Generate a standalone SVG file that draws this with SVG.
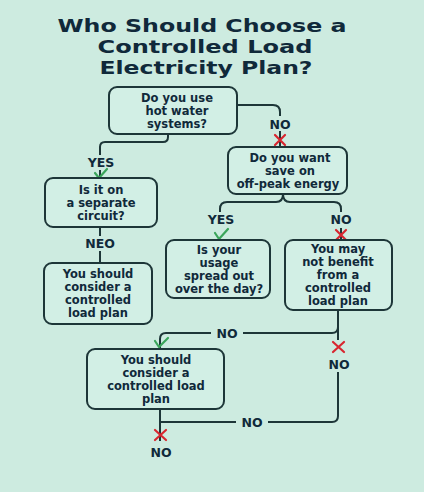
<svg xmlns="http://www.w3.org/2000/svg" width="424" height="492" viewBox="0 0 424 492">
<defs>
<style>
.bg{fill:#cdebe0}
.title{font-family:"DejaVu Sans","Liberation Sans",sans-serif;font-weight:bold;font-size:17.5px;fill:#10293a;text-anchor:middle}
.box{fill:#d2efe5;stroke:#1d3638;stroke-width:2}
.t{font-family:"DejaVu Sans","Liberation Sans",sans-serif;font-weight:bold;font-size:11.5px;fill:#10293a;text-anchor:middle}
.lbl{font-family:"DejaVu Sans","Liberation Sans",sans-serif;font-weight:bold;font-size:12.5px;fill:#10293a;text-anchor:middle}
.ln{fill:none;stroke:#1d3638;stroke-width:2}
.ok{fill:none;stroke:#3aa55a;stroke-width:2.2;stroke-linecap:round;stroke-linejoin:round}
.no{fill:none;stroke:#d8262f;stroke-width:2.2;stroke-linecap:round}
</style>
</defs>
<rect class="bg" x="0" y="0" width="424" height="492"/>
<g id="title">
<text class="title" x="202" y="32" textLength="289" lengthAdjust="spacingAndGlyphs">Who Should Choose a</text>
<text class="title" x="205" y="53" textLength="215" lengthAdjust="spacingAndGlyphs">Controlled Load</text>
<text class="title" x="206" y="74" textLength="213" lengthAdjust="spacingAndGlyphs">Electricity Plan?</text>
</g>
<g id="connectors">
<path class="ln" d="M237,105 H273 Q280,105 280,112 V116"/>
<path class="ln" d="M280,131 V147"/>
<path class="ln" d="M168,134 V137 Q168,142 163,142 H105 Q100,142 100,147 V155"/>
<path class="ln" d="M100,170 V178"/>
<path class="ln" d="M100,227 V236"/>
<path class="ln" d="M100,251 V263"/>
<path class="ln" d="M283,194 Q283,202 276,202 H227 Q220,202 220,209 V212"/>
<path class="ln" d="M283,194 Q283,202 290,202 H334 Q341,202 341,209 V212"/>
<path class="ln" d="M341,228 V240"/>
<path class="ln" d="M338,310 V327 Q338,333 332,333 H243"/>
<path class="ln" d="M211,333 H166 Q160,333 160,339 V349"/>
<path class="ln" d="M338,327 V340"/>
<path class="ln" d="M338,372 V416 Q338,422 332,422 H268"/>
<path class="ln" d="M236,422 H160"/>
<path class="ln" d="M160,409 V441"/>
<text class="lbl" x="280" y="129">NO</text>
<text class="lbl" x="101" y="167">YES</text>
<text class="lbl" x="100" y="248">NEO</text>
<text class="lbl" x="221" y="224">YES</text>
<text class="lbl" x="341" y="224">NO</text>
<text class="lbl" x="227" y="338">NO</text>
<text class="lbl" x="339" y="369">NO</text>
<text class="lbl" x="252" y="427">NO</text>
<text class="lbl" x="161" y="457">NO</text>
<path class="no" d="M275,135 L285,145 M285,135 L275,145"/>
<path class="ok" d="M95,173 L99,178 L107,169"/>
<path class="ok" d="M215,233 L219,239 L228,229"/>
<path class="no" d="M336,230 L346,240 M346,230 L336,240"/>
<path class="ok" d="M155,341 L159,347 L168,338"/>
<path class="no" d="M333,342 L344,352 M344,342 L333,352"/>
<path class="no" d="M155,430 L166,440 M166,430 L155,440"/>
</g>
<g id="q1">
<rect class="box" x="109" y="87" width="128" height="47" rx="8"/>
<text class="t" x="177" y="102">Do you use</text>
<text class="t" x="177" y="115">hot water</text>
<text class="t" x="177" y="128">systems?</text>
</g>
<g id="q2">
<rect class="box" x="228" y="147" width="119" height="47" rx="8"/>
<text class="t" x="290" y="162">Do you want</text>
<text class="t" x="290" y="175">save on</text>
<text class="t" x="288" y="188">off-peak energy</text>
</g>
<g id="q3">
<rect class="box" x="45" y="178" width="112" height="49" rx="8"/>
<text class="t" x="101" y="194">Is it on</text>
<text class="t" x="101" y="207">a separate</text>
<text class="t" x="101" y="220">circuit?</text>
</g>
<g id="r1">
<rect class="box" x="44" y="263" width="108" height="61" rx="8"/>
<text class="t" x="98" y="278">You should</text>
<text class="t" x="98" y="291">consider a</text>
<text class="t" x="98" y="304">controlled</text>
<text class="t" x="98" y="317">load plan</text>
</g>
<g id="q4">
<rect class="box" x="166" y="240" width="104" height="58" rx="8"/>
<text class="t" x="219" y="254">Is your</text>
<text class="t" x="219" y="267">usage</text>
<text class="t" x="219" y="280">spread out</text>
<text class="t" x="219" y="293">over the day?</text>
</g>
<g id="r2">
<rect class="box" x="285" y="240" width="107" height="70" rx="8"/>
<text class="t" x="338" y="253">You may</text>
<text class="t" x="338" y="266">not benefit</text>
<text class="t" x="338" y="279">from a</text>
<text class="t" x="338" y="292">controlled</text>
<text class="t" x="338" y="305">load plan</text>
</g>
<g id="r3">
<rect class="box" x="87" y="349" width="137" height="60" rx="8"/>
<text class="t" x="156" y="364">You should</text>
<text class="t" x="156" y="377">consider a</text>
<text class="t" x="156" y="390">controlled load</text>
<text class="t" x="156" y="403">plan</text>
</g>
</svg>
